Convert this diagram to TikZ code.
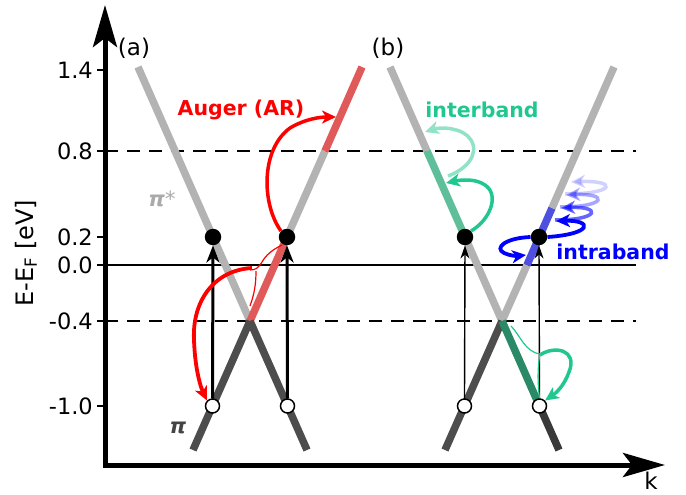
\documentclass[tikz,border=0pt]{standalone}
\usepackage{fontspec}
\setmainfont{DejaVu Sans}
\usetikzlibrary{arrows.meta}
\definecolor{bandlight}{HTML}{B3B3B3}
\definecolor{banddark}{HTML}{4D4D4D}
\definecolor{banddarker}{HTML}{3A3A3A}
\definecolor{bandred}{HTML}{E05A5A}
\definecolor{bandgreen}{HTML}{5FBF9A}
\definecolor{bandblue}{HTML}{5050E0}
\definecolor{bandteal}{HTML}{2A8A68}
\definecolor{arrgreen}{HTML}{20C890}
\definecolor{arrlight}{HTML}{90E3C4}
\definecolor{pigray}{HTML}{AAAAAA}
\definecolor{pidark}{HTML}{444444}
\begin{document}
\begin{tikzpicture}[x=1pt,y=-1pt,
  band/.style={line width=7.5pt},
  fulldot/.style={circle,fill=black,inner sep=0pt,minimum size=16.5pt},
  opendot/.style={circle,draw=black,fill=white,line width=1.5pt,inner sep=0pt,minimum size=14pt},
  levelline/.style={line width=2.6pt},
  dashline/.style={line width=2.6pt,dash pattern=on 13pt off 9pt},
  thickup/.style={line width=3pt,-{Stealth[length=17pt,width=13pt,inset=5pt]}},
  thinup/.style={line width=1.4pt,-{Stealth[length=13pt,width=9pt,inset=4pt]}},
  procarrow/.style={line width=3.5pt,-{Stealth[length=14pt,width=13pt,inset=4pt]}},
  thinproc/.style={line width=1.2pt},
  ticklabel/.style={anchor=east,font=\fontsize{22.5}{26}\selectfont,inner sep=0pt},
  bandlabel/.style={font=\fontsize{20.5}{24}\selectfont\bfseries,inner sep=0pt},
  panellabel/.style={font=\fontsize{23}{26}\selectfont,inner sep=0pt}
]
\useasboundingbox (0,0) rectangle (686,495);

% level lines
\coordinate (z0) at (105,265); \coordinate (z1) at (636,265);
\coordinate (d8a) at (105,151); \coordinate (d8b) at (636,151);
\coordinate (d4a) at (105,321); \coordinate (d4b) at (636,321);
\draw[levelline] (z0) -- (z1);
\draw[dashline] (d8a) -- (d8b);
\draw[dashline] (d4a) -- (d4b);

% ---------- panel (a) bands ----------
\coordinate (ca) at (250,321);
\draw[band,bandlight] (138,67) -- (ca);
\draw[band,bandred] (ca) -- (287,237);
\draw[band,bandlight] (287,237) -- (325,151);
\draw[band,bandred] (325,151) -- (362,67);
\draw[band,banddark] (ca) -- (193,450);
\draw[band,banddark] (ca) -- (307,450);

% ---------- panel (b) bands ----------
\coordinate (cb) at (502,321);
\draw[band,bandlight] (390,67) -- (427,151);
\draw[band,bandgreen] (427,151) -- (465,237);
\draw[band,bandlight] (465,237) -- (cb);
\draw[band,bandlight] (cb) -- (527,265);
\draw[band,bandblue] (527,265) -- (552,208);
\draw[band,bandlight] (552,208) -- (614,67);
\draw[band,banddark] (cb) -- (445,450);
\draw[band,bandteal] (cb) -- (539.5,406);
\draw[band,banddarker] (539.5,406) -- (559,450);

% ---------- dots ----------
\node[fulldot] (a1f) at (213,237) {};
\node[fulldot] (a2f) at (287,237) {};
\node[opendot] (a1o) at (212.5,406) {};
\node[opendot] (a2o) at (287.5,406) {};
\node[fulldot] (b1f) at (465,237) {};
\node[fulldot] (b2f) at (539,237) {};
\node[opendot] (b1o) at (464.5,406) {};
\node[opendot] (b2o) at (539.5,406) {};

\draw[thickup] (a1o.north) -- (a1f.south);
\draw[thickup] (a2o.north) -- (a2f.south);
\draw[thinup] (b1o.north) -- (b1f.south);
\draw[thinup] (b2o.north) -- (b2f.south);

% ---------- Auger arrows ----------
\draw[procarrow,red] (a2f.north west) .. controls (262,205) and (260,150) .. (290,128) .. controls (305,119) and (320,117) .. (336,117);
\draw[procarrow,red,line width=3.8pt] (252,268) .. controls (215,270) and (192,300) .. (194,340) .. controls (195,370) and (201,388) .. (a1o.north west);
\draw[thinproc,red] (250,270) .. controls (256,270) and (258,268) .. (262,262) .. controls (266,255) and (272,250) .. (282,245);
\draw[thinproc,red] (256,271) .. controls (256,285) and (254,295) .. (250,306);

% ---------- interband arrows ----------
\draw[procarrow,arrgreen] (b1f.north east) .. controls (490,220) and (500,195) .. (485,185) .. controls (475,178) and (460,180) .. (446,183);
\draw[procarrow,arrlight] (448,176) .. controls (465,170) and (480,155) .. (471,140) .. controls (463,127) and (440,127) .. (425,132);
\draw[thinproc,arrgreen] (511,326) .. controls (520,335) and (525,352) .. (540,354);
\draw[thinproc,arrgreen] (540,354) .. controls (537,370) and (538,385) .. (b2o.north);
\draw[procarrow,arrgreen] (540,355) .. controls (555,345) and (578,350) .. (569,372) .. controls (564,386) and (556,393) .. (b2o.north east);

% ---------- intraband arrows ----------
\draw[procarrow,blue,opacity=0.18] (565,194) .. controls (617,194) and (617,180) .. (571,182);
\draw[procarrow,blue,opacity=0.35] (560,207) .. controls (608,207) and (608,193) .. (566,195);
\draw[procarrow,blue,opacity=0.6] (555,220) .. controls (601,220) and (601,206) .. (561,208);
\draw[procarrow,blue,line width=3.8pt] (b2f.east) .. controls (593,234) and (593,220) .. (556,221);
\draw[procarrow,blue,line width=3.8pt] (b2f.west) .. controls (505,238) and (494,248) .. (504,253) .. controls (510,256) and (518,256) .. (526,255);

% ---------- axes ----------
\coordinate (ytop) at (105,5);
\coordinate (orig) at (105,465);
\coordinate (xend) at (665,465);
\draw[line width=5pt,line join=miter,{Stealth[length=42pt,width=24pt,inset=9pt]}-{Stealth[length=42pt,width=24pt,inset=9pt]}] (ytop) -- (orig) -- (xend);

\foreach \yy/\lab in {70/1.4,151/0.8,237/0.2,265/0.0,321/-0.4,406/-1.0}{
  \draw[line width=2.2pt] (97,\yy) -- (105,\yy);
  \node[ticklabel] at (93,\yy) {\lab};
}
\node[rotate=90,font=\fontsize{24}{28}\selectfont,inner sep=0pt] (ylab) at (26,253) {E-E\textsubscript{F} [eV]};
\node[panellabel] (klab) at (651,481) {k};
\node[panellabel] (pa) at (134,48) {(a)};
\node[panellabel] (pb) at (388,48) {(b)};

\node[bandlabel,red] (auger) at (241,110) {Auger (AR)};
\node[bandlabel,arrgreen] (inter) at (482,110) {interband};
\node[bandlabel,blue] (intra) at (613,252) {intraband};
\node[font=\fontsize{21}{24}\selectfont,text=pigray,inner sep=0pt] (pistar) at (162,199) {{\bfseries\itshape π}*};
\node[font=\fontsize{21}{24}\selectfont\bfseries\itshape,text=pidark,inner sep=0pt] (pi) at (178,428) {π};
\end{tikzpicture}
\end{document}
